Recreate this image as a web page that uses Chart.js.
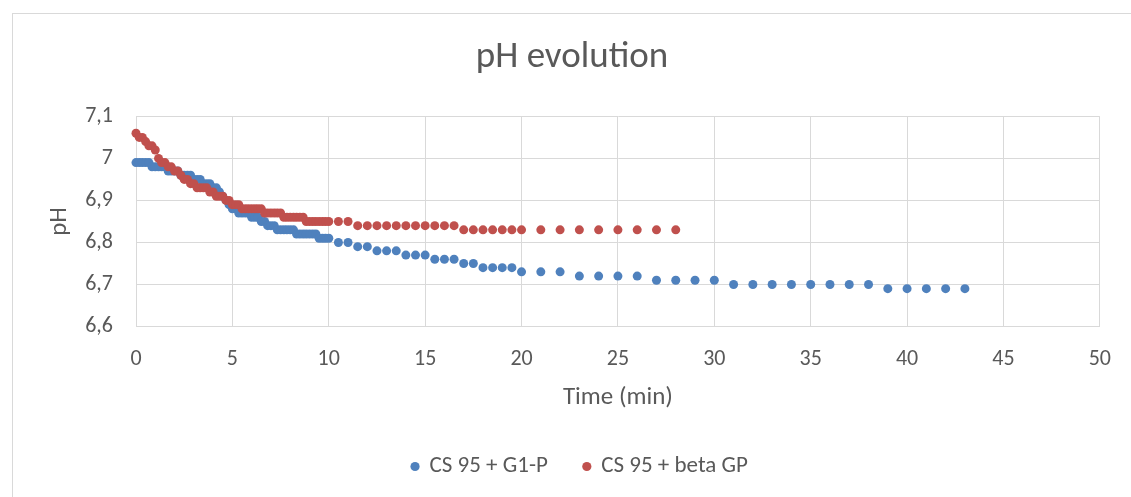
<!DOCTYPE html>
<html>
<head>
<meta charset="utf-8">
<script src="https://cdn.jsdelivr.net/npm/chart.js@4"></script>
<style>
  html, body { margin: 0; padding: 0; background: #ffffff; overflow: hidden; }
  #wrap { position: relative; width: 1131px; height: 497px; }
  #frame { position: absolute; left: 12px; top: 13px; width: 1140px; height: 500px;
           border-left: 1px solid #d9d9d9; border-top: 1px solid #d9d9d9; box-sizing: border-box; }
  canvas { position: absolute; left: 0; top: 0; }
</style>
</head>
<body>
<div id="wrap">
  <div id="frame"></div>
  <canvas id="c" width="1131" height="497"></canvas>
</div>
<script>
// ---- data ----
const seriesNames = ["CS 95 + G1-P", "CS 95 + beta GP"];

const timeG1P = [
  0, 0.17, 0.33, 0.5, 0.67, 0.83, 1, 1.17, 1.33, 1.5,
  1.67, 1.83, 2, 2.17, 2.33, 2.5, 2.67, 2.83, 3, 3.17,
  3.33, 3.5, 3.67, 3.83, 4, 4.17, 4.33, 4.5, 4.67, 4.83,
  5, 5.17, 5.33, 5.5, 5.67, 5.83, 6, 6.17, 6.33, 6.5,
  6.67, 6.83, 7, 7.17, 7.33, 7.5, 7.67, 7.83, 8, 8.17,
  8.33, 8.5, 8.67, 8.83, 9, 9.17, 9.33, 9.5, 9.67, 9.83,
  10, 10.5, 11, 11.5, 12, 12.5, 13, 13.5, 14, 14.5,
  15, 15.5, 16, 16.5, 17, 17.5, 18, 18.5, 19, 19.5,
  20, 21, 22, 23, 24, 25, 26, 27, 28, 29,
  30, 31, 32, 33, 34, 35, 36, 37, 38, 39,
  40, 41, 42, 43
];
const phG1P = [
  6.99, 6.99, 6.99, 6.99, 6.99, 6.98, 6.98, 6.98, 6.98, 6.98,
  6.97, 6.97, 6.97, 6.97, 6.96, 6.96, 6.96, 6.96, 6.95, 6.95,
  6.95, 6.94, 6.94, 6.94, 6.93, 6.93, 6.92, 6.91, 6.90, 6.89,
  6.88, 6.88, 6.87, 6.87, 6.87, 6.87, 6.86, 6.86, 6.86, 6.85,
  6.85, 6.84, 6.84, 6.84, 6.83, 6.83, 6.83, 6.83, 6.83, 6.83,
  6.82, 6.82, 6.82, 6.82, 6.82, 6.82, 6.82, 6.81, 6.81, 6.81,
  6.81, 6.80, 6.80, 6.79, 6.79, 6.78, 6.78, 6.78, 6.77, 6.77,
  6.77, 6.76, 6.76, 6.76, 6.75, 6.75, 6.74, 6.74, 6.74, 6.74,
  6.73, 6.73, 6.73, 6.72, 6.72, 6.72, 6.72, 6.71, 6.71, 6.71,
  6.71, 6.70, 6.70, 6.70, 6.70, 6.70, 6.70, 6.70, 6.70, 6.69,
  6.69, 6.69, 6.69, 6.69
];

const timeBetaGP = [
  0, 0.17, 0.33, 0.5, 0.67, 0.83, 1, 1.17, 1.33, 1.5,
  1.67, 1.83, 2, 2.17, 2.33, 2.5, 2.67, 2.83, 3, 3.17,
  3.33, 3.5, 3.67, 3.83, 4, 4.17, 4.33, 4.5, 4.67, 4.83,
  5, 5.17, 5.33, 5.5, 5.67, 5.83, 6, 6.17, 6.33, 6.5,
  6.67, 6.83, 7, 7.17, 7.33, 7.5, 7.67, 7.83, 8, 8.17,
  8.33, 8.5, 8.67, 8.83, 9, 9.17, 9.33, 9.5, 9.67, 9.83,
  10, 10.5, 11, 11.5, 12, 12.5, 13, 13.5, 14, 14.5,
  15, 15.5, 16, 16.5, 17, 17.5, 18, 18.5, 19, 19.5,
  20, 21, 22, 23, 24, 25, 26, 27, 28
];
const phBetaGP = [
  7.06, 7.05, 7.05, 7.04, 7.03, 7.03, 7.02, 7.00, 6.99, 6.99,
  6.98, 6.98, 6.97, 6.97, 6.96, 6.95, 6.95, 6.94, 6.94, 6.93,
  6.93, 6.93, 6.93, 6.92, 6.92, 6.91, 6.91, 6.91, 6.90, 6.90,
  6.89, 6.89, 6.89, 6.88, 6.88, 6.88, 6.88, 6.88, 6.88, 6.88,
  6.87, 6.87, 6.87, 6.87, 6.87, 6.87, 6.86, 6.86, 6.86, 6.86,
  6.86, 6.86, 6.86, 6.85, 6.85, 6.85, 6.85, 6.85, 6.85, 6.85,
  6.85, 6.85, 6.85, 6.84, 6.84, 6.84, 6.84, 6.84, 6.84, 6.84,
  6.84, 6.84, 6.84, 6.84, 6.83, 6.83, 6.83, 6.83, 6.83, 6.83,
  6.83, 6.83, 6.83, 6.83, 6.83, 6.83, 6.83, 6.83, 6.83
];

const xTicks = [0, 5, 10, 15, 20, 25, 30, 35, 40, 45, 50];
const yTicks = [6.6, 6.7, 6.8, 6.9, 7.0, 7.1];

// ---- chart ----
const FONT = "Carlito, Calibri, Lato, sans-serif";
const TXT = "#595959";
const GRID = "#d9d9d9";

function pts(xs, ys) { return xs.map((x, i) => ({ x: x, y: ys[i] })); }

const shiftPlugin = {
  id: "shiftBoxes",
  afterLayout(chart) {
    const lg = chart.legend, tt = chart.titleBlock;
    if (lg) { lg.left += 24; lg.right += 24; }
    if (tt) { tt.left += 16; tt.right += 16; }
  }
};

new Chart(document.getElementById("c"), {
  type: "scatter",
  data: {
    datasets: [
      { label: seriesNames[0], data: pts(timeG1P, phG1P), backgroundColor: "#4f81bd",
        borderColor: "#4f81bd", pointRadius: 4.5, pointHoverRadius: 4.5, pointBorderWidth: 0, borderWidth: 0,
        order: 1, clip: false },
      { label: seriesNames[1], data: pts(timeBetaGP, phBetaGP), backgroundColor: "#c0504d",
        borderColor: "#c0504d", pointRadius: 4.5, pointHoverRadius: 4.5, pointBorderWidth: 0, borderWidth: 0,
        order: 0, clip: false }
    ]
  },
  options: {
    responsive: false,
    animation: false,
    devicePixelRatio: 1,
    layout: { padding: { left: 12, right: 31, top: 0, bottom: 9 } },
    plugins: {
      tooltip: { enabled: false },
      title: {
        display: true, text: "pH evolution", color: TXT,
        font: { family: FONT, size: 37, weight: 300 },
        padding: { top: 36, bottom: 36 }
      },
      legend: {
        position: "bottom",
        labels: {
          color: TXT, font: { family: FONT, size: 23 },
          usePointStyle: true, pointStyle: "circle", boxWidth: 6, boxHeight: 6.5, padding: 36,
          sort: (a, b) => a.datasetIndex - b.datasetIndex
        }
      }
    },
    scales: {
      x: {
        type: "linear", min: 0, max: 50,
        afterBuildTicks: (s) => { s.ticks = xTicks.map(v => ({ value: v })); },
        afterFit: (s) => { s.height = 92.5; },
        grid: { color: GRID, drawTicks: false, lineWidth: 1 },
        border: { color: GRID },
        ticks: { color: TXT, font: { family: FONT, size: 22 }, padding: 20, maxRotation: 0 },
        title: { display: true, text: "Time (min)", color: TXT, font: { family: FONT, size: 25 }, padding: { top: 0, bottom: 6.5 } }
      },
      y: {
        type: "linear", min: 6.6, max: 7.1,
        afterBuildTicks: (s) => { s.ticks = yTicks.map(v => ({ value: v })); },
        afterFit: (s) => { s.width = 124; },
        grid: { color: GRID, drawTicks: false, lineWidth: 1 },
        border: { color: GRID },
        ticks: {
          color: TXT, font: { family: FONT, size: 22 }, padding: 23,
          callback: (v) => String(Number(Number(v).toFixed(1))).replace(".", ",")
        },
        title: { display: true, text: "pH", color: TXT, font: { family: FONT, size: 25 }, padding: { top: 33, bottom: 0 } }
      }
    }
  },
  plugins: [shiftPlugin]
});
</script>
</body>
</html>
